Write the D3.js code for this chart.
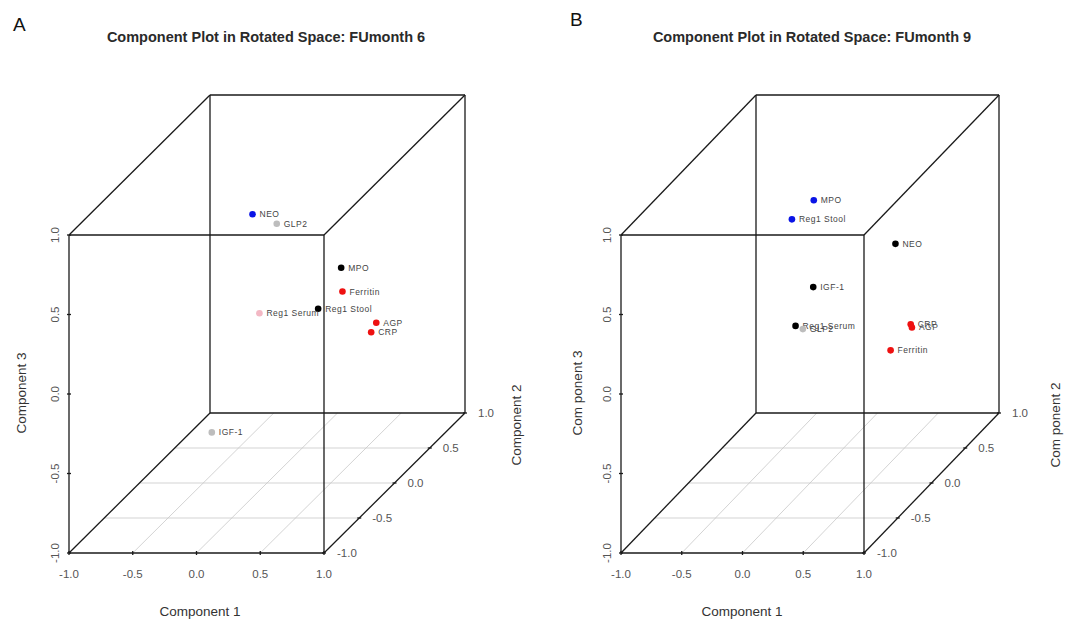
<!DOCTYPE html>
<meta charset="utf-8">
<style>
  body { margin: 0; background: #fff; }
  text { font-family: "Liberation Sans", Arial, sans-serif; }
  .edge { stroke: #1a1a1a; stroke-width: 1.3; fill: none; }
  .grid { stroke: #c8c8c8; stroke-width: 0.8; }
  .tick { stroke: #1a1a1a; stroke-width: 1.3; }
  .ticklab { font-size: 11.5px; fill: #555; }
  .axtitle { font-size: 13.5px; fill: #333; }
  .title { font-size: 14.5px; font-weight: bold; fill: #2a2a2a; }
  .ptlab { font-size: 8.5px; fill: #444; letter-spacing: 0.5px; }
</style>
<body>
<svg id="chart" width="1072" height="621"></svg>
<script src="https://d3js.org/d3.v7.min.js"></script>
<script>

  const ticks = [-1, -0.5, 0, 0.5, 1];
  const tickLabels = ["-1.0", "-0.5", "0.0", "0.5", "1.0"];

  // panel A: FUmonth 6
  const labelsA = ["NEO", "GLP2", "MPO", "Ferritin", "Reg1  Stool", "Reg1  Serum", "AGP", "CRP", "IGF-1"];
  const comp1A = [-0.39, -0.20, 0.25, 0.26, 0.18, -0.17, 0.47, 0.43, -0.82];
  const comp2A = [0.50, 0.50, 0.60, 0.60, 0.40, 0.20, 0.70, 0.70, 0.70];
  const comp3A = [0.47, 0.41, 0.09, -0.06, -0.08, -0.02, -0.30, -0.36, -0.99];
  const groupA = ["blue", "gray", "black", "red", "black", "pink", "red", "red", "gray"];

  // panel B: FUmonth 9
  const labelsB = ["MPO", "Reg1  Stool", "NEO", "IGF-1", "Reg1  Serum", "GLP2", "CRP", "AGP", "Ferritin"];
  const comp1B = [-0.08, -0.26, 0.37, -0.14, -0.23, -0.17, 0.44, 0.45, 0.33];
  const comp2B = [0.20, 0.20, 0.60, 0.30, 0.20, 0.20, 0.70, 0.70, 0.60];
  const comp3B = [0.69, 0.57, 0.24, 0.10, -0.10, -0.12, -0.31, -0.33, -0.43];
  const groupB = ["blue", "blue", "black", "black", "black", "gray", "red", "red", "red"];

  const color = d3.scaleOrdinal()
    .domain(["blue", "gray", "black", "red", "pink"])
    .range(["#0a14e6", "#bdbdbd", "#000000", "#ee1111", "#f3b8c4"]);

  const svg = d3.select("#chart");

  function drawPanel(opt, labels, c1, c2, c3, groups) {
    const g = svg.append("g");
    const sx = d3.scaleLinear().domain([-1, 1]).range([opt.x0, opt.x0 + opt.w]);
    const sy = d3.scaleLinear().domain([-1, 1]).range([opt.yb, opt.yb - opt.h]);
    const sz = d3.scaleLinear().domain([-1, 1]).range([0, 1]);

    // project a point in component space onto the page
    const px = (a, b) => sx(a) + sz(b) * opt.dx;
    const py = (b, c) => sy(c) - sz(b) * opt.dy;

    // floor grid
    [-0.5, 0, 0.5].forEach(v => {
      g.append("line").attr("class", "grid")
        .attr("x1", px(-1, v)).attr("y1", py(v, -1))
        .attr("x2", px(1, v)).attr("y2", py(v, -1));
      g.append("line").attr("class", "grid")
        .attr("x1", px(v, -1)).attr("y1", py(-1, -1))
        .attr("x2", px(v, 1)).attr("y2", py(1, -1));
    });

    // cube edges
    const corners = [];
    [-1, 1].forEach(a => [-1, 1].forEach(b => [-1, 1].forEach(c => corners.push([a, b, c]))));
    corners.forEach(p => {
      corners.forEach(q => {
        const diff = p.reduce((s, v, i) => s + (v !== q[i] ? 1 : 0), 0);
        if (diff === 1 && p < q) {
          g.append("line").attr("class", "edge")
            .attr("x1", px(p[0], p[1])).attr("y1", py(p[1], p[2]))
            .attr("x2", px(q[0], q[1])).attr("y2", py(q[1], q[2]));
        }
      });
    });

    // component 3 ticks (front left edge)
    ticks.forEach((t, i) => {
      const y = py(-1, t), x = px(-1, -1);
      g.append("line").attr("class", "tick").attr("x1", x - 2).attr("x2", x + 2).attr("y1", y).attr("y2", y);
      g.append("text").attr("class", "ticklab")
        .attr("transform", `translate(${x - 14},${y}) rotate(-90)`)
        .attr("text-anchor", "middle").attr("dy", "0.35em").text(tickLabels[i]);
    });
    // component 1 ticks (front bottom edge)
    ticks.forEach((t, i) => {
      const x = px(t, -1), y = py(-1, -1);
      g.append("line").attr("class", "tick").attr("x1", x).attr("x2", x).attr("y1", y - 2).attr("y2", y + 2);
      g.append("text").attr("class", "ticklab")
        .attr("x", x).attr("y", y + 25).attr("text-anchor", "middle").text(tickLabels[i]);
    });
    // component 2 ticks (right bottom diagonal)
    ticks.forEach((t, i) => {
      const x = px(1, t), y = py(t, -1);
      g.append("line").attr("class", "tick").attr("x1", x - 2).attr("x2", x + 2).attr("y1", y).attr("y2", y);
      g.append("text").attr("class", "ticklab")
        .attr("x", x + 13).attr("y", y).attr("dy", "0.35em").text(tickLabels[i]);
    });

    // axis titles
    g.append("text").attr("class", "axtitle")
      .attr("transform", `translate(${opt.t3x},393) rotate(-90)`)
      .attr("text-anchor", "middle").attr("dy", "0.35em").text(opt.t3);
    g.append("text").attr("class", "axtitle")
      .attr("x", opt.t1x).attr("y", 616).attr("text-anchor", "middle").text("Component 1");
    g.append("text").attr("class", "axtitle")
      .attr("transform", `translate(${opt.t2x},425) rotate(-90)`)
      .attr("text-anchor", "middle").attr("dy", "0.35em").text(opt.t2);

    // titles
    g.append("text").attr("class", "title")
      .attr("x", opt.titleX).attr("y", 42).attr("text-anchor", "middle").text(opt.title);
    g.append("text").attr("x", opt.letterX).attr("y", opt.letterY)
      .style("font-size", "19px").style("fill", "#111").text(opt.letter);

    // points
    const pts = g.selectAll(".pt").data(labels.map((d, i) => ({ label: d, a: c1[i], b: c2[i], c: c3[i], grp: groups[i] })))
      .enter().append("g").attr("class", "pt")
      .attr("transform", d => `translate(${px(d.a, d.b)},${py(d.b, d.c)})`);
    pts.append("circle").attr("r", 3.3).attr("fill", d => color(d.grp));
    pts.append("text").attr("class", "ptlab").attr("x", 7).attr("dy", "0.35em")
      .text(d => d.label);
  }

  drawPanel({ x0: 69, w: 255, yb: 553, h: 318, dx: 141, dy: 140,
              t3x: 21, t1x: 200, t2x: 516, t3: "Component 3", t2: "Component 2",
              titleX: 266, title: "Component Plot in Rotated Space: FUmonth 6",
              letter: "A", letterX: 13, letterY: 31 },
            labelsA, comp1A, comp2A, comp3A, groupA);

  drawPanel({ x0: 621, w: 243, yb: 553, h: 318, dx: 135, dy: 140,
              t3x: 577, t1x: 742, t2x: 1055, t3: "Com ponent 3", t2: "Com ponent 2",
              titleX: 812, title: "Component Plot in Rotated Space: FUmonth 9",
              letter: "B", letterX: 570, letterY: 26 },
            labelsB, comp1B, comp2B, comp3B, groupB);

</script>
</body>
